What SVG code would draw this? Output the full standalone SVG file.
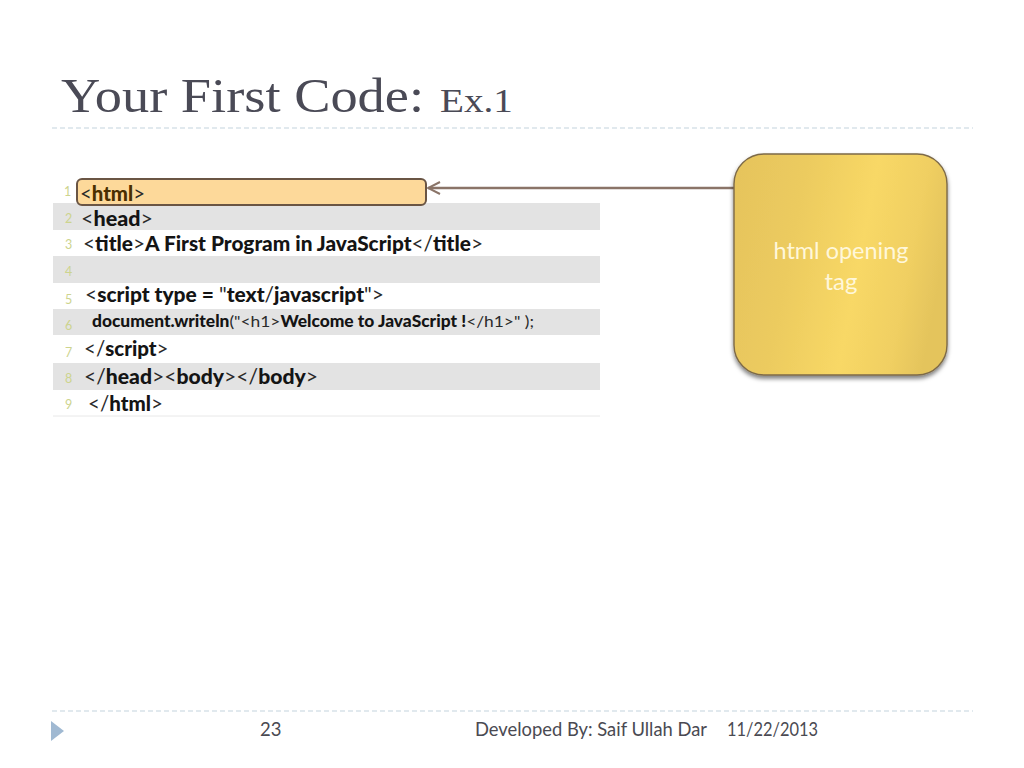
<svg xmlns="http://www.w3.org/2000/svg" width="1024" height="768" viewBox="0 0 1024 768">
<style>
.code{font-family:"Lato","Open Sans",sans-serif;font-weight:900;font-size:20.5px;fill:#141414}
.thin{font-weight:400;fill:#2a2a2a}
.num{font-family:"Lato",sans-serif;font-size:12.5px;fill:#cdd48e}
.stripe{fill:#e3e3e3}
.foot{font-family:"Lato","Open Sans",sans-serif;font-size:18.5px;fill:#4a4a52}
.title{font-family:"Liberation Serif",serif;fill:#4a4a56}
.rule{stroke:#c3d3de;stroke-width:1.2;stroke-dasharray:5 3;fill:none}
.call{font-family:"Lato","Open Sans",sans-serif;font-size:24px;fill:#fff7da}
</style>
<defs>
<linearGradient id="gold" x1="0" y1="0.2" x2="1" y2="0.4">
<stop offset="0" stop-color="#e6c45c"/><stop offset="0.3" stop-color="#eccb5f"/><stop offset="0.62" stop-color="#f8d866"/><stop offset="0.85" stop-color="#f0cf62"/><stop offset="1" stop-color="#e4c45c"/>
</linearGradient>
<filter id="sh" x="-10%" y="-10%" width="120%" height="120%"><feDropShadow dx="0" dy="3" stdDeviation="2" flood-color="#000" flood-opacity="0.5"/></filter>
<marker id="arrow" viewBox="0 0 14 14" refX="13" refY="7" markerWidth="14" markerHeight="14" markerUnits="userSpaceOnUse" orient="auto">
<path d="M1 1 L13 7 L1 13" fill="none" stroke="#8a7468" stroke-width="2"/>
</marker>
</defs>
<rect width="1024" height="768" fill="#fff"/>

<g id="title">
<text class="title" x="61" y="112" font-size="48" textLength="363" lengthAdjust="spacingAndGlyphs">Your First Code:</text>
<text class="title" x="440" y="112" font-size="33" textLength="73" lengthAdjust="spacingAndGlyphs">Ex.1</text>
<line class="rule" x1="52" y1="128" x2="973" y2="128"/>
</g>

<g id="code">
<rect class="stripe" x="53" y="203" width="547" height="27"/>
<rect class="stripe" x="53" y="256" width="547" height="27"/>
<rect class="stripe" x="53" y="309" width="547" height="26"/>
<rect class="stripe" x="53" y="363" width="547" height="27"/>
<line x1="53" y1="416" x2="600" y2="416" stroke="#e8e8e8"/>
<text class="num" x="64" y="196">1</text><text class="num" x="65" y="223">2</text><text class="num" x="65" y="249">3</text><text class="num" x="65" y="276">4</text><text class="num" x="65" y="304">5</text><text class="num" x="65" y="330">6</text><text class="num" x="65" y="357">7</text><text class="num" x="65" y="383">8</text><text class="num" x="65" y="409">9</text>
</g>

<g id="highlight">
<rect x="77" y="179" width="349" height="26" rx="5" fill="#fdd99a" stroke="#6a5544" stroke-width="2"/>
</g>

<g id="code-text">
<text class="code" x="80" y="201" textLength="65" lengthAdjust="spacingAndGlyphs"><tspan class="thin">&lt;</tspan><tspan fill="#4a2f00">html</tspan><tspan class="thin">&gt;</tspan></text>
<text class="code" x="81" y="226" textLength="72" lengthAdjust="spacingAndGlyphs"><tspan class="thin">&lt;</tspan>head<tspan class="thin">&gt;</tspan></text>
<text class="code" x="83" y="251" textLength="400" lengthAdjust="spacingAndGlyphs"><tspan class="thin">&lt;</tspan>title<tspan class="thin">&gt;</tspan>A First Program in JavaScript<tspan class="thin">&lt;/</tspan>title<tspan class="thin">&gt;</tspan></text>
<text class="code" x="85" y="302" textLength="299" lengthAdjust="spacingAndGlyphs"><tspan class="thin">&lt;</tspan>script type = <tspan class="thin">"</tspan>text<tspan class="thin">/</tspan>javascript<tspan class="thin">"&gt;</tspan></text>
<text class="code" x="92" y="327" textLength="442" lengthAdjust="spacingAndGlyphs" style="font-size:16px">document.writeln<tspan class="thin">("&lt;h1&gt;</tspan>Welcome to JavaScript !<tspan class="thin">&lt;/h1&gt;" );</tspan></text>
<text class="code" x="84" y="356"><tspan class="thin">&lt;/</tspan>script<tspan class="thin">&gt;</tspan></text>
<text class="code" x="84" y="384" textLength="234" lengthAdjust="spacingAndGlyphs"><tspan class="thin">&lt;/</tspan>head<tspan class="thin">&gt;&lt;</tspan>body<tspan class="thin">&gt;&lt;/</tspan>body<tspan class="thin">&gt;</tspan></text>
<text class="code" x="88" y="411"><tspan class="thin">&lt;/</tspan>html<tspan class="thin">&gt;</tspan></text>
</g>

<g id="connectors">
<line x1="735" y1="188" x2="428" y2="188" stroke="#8a7468" stroke-width="2.5" marker-end="url(#arrow)"/>
</g>

<g id="callout">
<rect x="734" y="154" width="213" height="221" rx="30" fill="url(#gold)" stroke="#7d6a48" stroke-width="1.4" filter="url(#sh)"/>
<text class="call" x="841" y="259" text-anchor="middle" textLength="135" lengthAdjust="spacingAndGlyphs">html opening</text>
<text class="call" x="841" y="290" text-anchor="middle">tag</text>
</g>

<g id="footer">
<line class="rule" x1="52" y1="711" x2="973" y2="711"/>
<polygon points="51,721 64,731 51,741" fill="#a0b9d2"/>
<text class="foot" x="260" y="736">23</text>
<text class="foot" x="475" y="736" textLength="232" lengthAdjust="spacingAndGlyphs">Developed By: Saif Ullah Dar</text>
<text class="foot" x="727" y="736" textLength="91" lengthAdjust="spacingAndGlyphs">11/22/2013</text>
</g>
</svg>
